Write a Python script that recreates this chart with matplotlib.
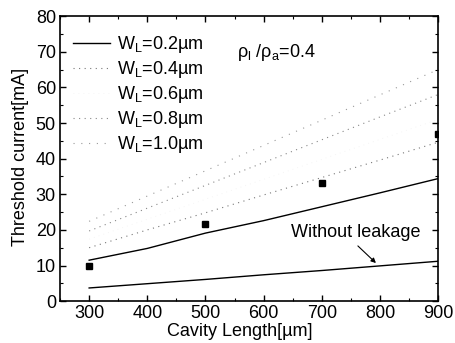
import matplotlib
matplotlib.use("Agg")
import matplotlib.pyplot as plt
from matplotlib.ticker import MultipleLocator

plt.rcParams["font.family"] = ["Liberation Sans", "DejaVu Sans"]
plt.rcParams["mathtext.fontset"] = "custom"
plt.rcParams["mathtext.rm"] = "Liberation Sans"
plt.rcParams["mathtext.it"] = "Liberation Sans:italic"

# datos
length = [300, 400, 500, 600, 700, 800, 900]
wl_02 = [11.5, 14.8, 19.1, 22.6, 26.5, 30.4, 34.4]
wl_04 = [15.0, 20.0, 24.8, 29.8, 34.7, 39.6, 44.6]
wl_06 = [17.4, 23.0, 28.6, 34.2, 39.8, 45.4, 51.0]
wl_08 = [19.7, 26.1, 32.5, 38.9, 45.3, 51.7, 58.0]
wl_10 = [22.4, 29.5, 36.6, 43.7, 50.8, 57.9, 65.0]
no_leak = [3.7, 4.9, 6.1, 7.4, 8.6, 9.9, 11.2]

exp_len = [300, 500, 700, 900]
exp_ith = [10.0, 21.7, 33.2, 47.0]

FS = 13

fig = plt.figure(figsize=(4.55, 3.43), dpi=100)
ax = fig.add_axes([0.132, 0.122, 0.831, 0.831])

ax.plot(length, wl_02, color="black", lw=1.0, label=r"W$_\mathregular{L}$=0.2µm")
ax.plot(length, wl_04, color="#777777", lw=0.8, ls=(0, (1, 4)), label=r"W$_\mathregular{L}$=0.4µm")
ax.plot(length, wl_06, color="#f2f2f2", lw=0.6, ls=(0, (1, 5)), label=r"W$_\mathregular{L}$=0.6µm")
ax.plot(length, wl_08, color="#888888", lw=0.8, ls=(0, (1, 4)), label=r"W$_\mathregular{L}$=0.8µm")
ax.plot(length, wl_10, color="#999999", lw=0.8, ls=(0, (1, 6)), label=r"W$_\mathregular{L}$=1.0µm")
ax.plot(length, no_leak, color="black", lw=1.0)
ax.plot(exp_len, exp_ith, "s", color="black", ms=5)

ax.set_xlim(250, 900)
ax.set_ylim(0, 80)
ax.xaxis.set_major_locator(MultipleLocator(100))
ax.xaxis.set_minor_locator(MultipleLocator(50))
ax.yaxis.set_major_locator(MultipleLocator(10))
ax.yaxis.set_minor_locator(MultipleLocator(5))
ax.tick_params(which="both", direction="in", top=True, right=True, labelsize=FS, pad=3)
ax.tick_params(which="major", length=4, width=1)
ax.tick_params(which="minor", length=2, width=0.8)
for s in ax.spines.values():
    s.set_linewidth(1.2)

ax.set_xlabel("Cavity Length[µm]", fontsize=FS)
ax.set_ylabel("Threshold current[mA]", fontsize=FS)
ax.xaxis.set_label_coords(0.474, -0.075)
ax.yaxis.set_label_coords(-0.082, 0.505)

ax.text(621, 69.8, "ρ$_\\mathregular{l}$ /ρ$_\\mathregular{a}$=0.4", fontsize=FS, va="center", ha="center")
ax.text(758, 19.3, "Without leakage", fontsize=FS, ha="center", va="center")
ax.annotate("", xy=(793, 10.7), xytext=(762, 15.5),
            arrowprops=dict(arrowstyle="-|>", color="black", lw=0.8,
                            mutation_scale=7, shrinkA=0, shrinkB=0))

ax.legend(loc="upper left", frameon=False, fontsize=FS, handlelength=2.05,
          labelspacing=0.22, handletextpad=0.4, borderaxespad=0.3,
          bbox_to_anchor=(0.0, 0.98))

fig.savefig("out.png", dpi=100)
